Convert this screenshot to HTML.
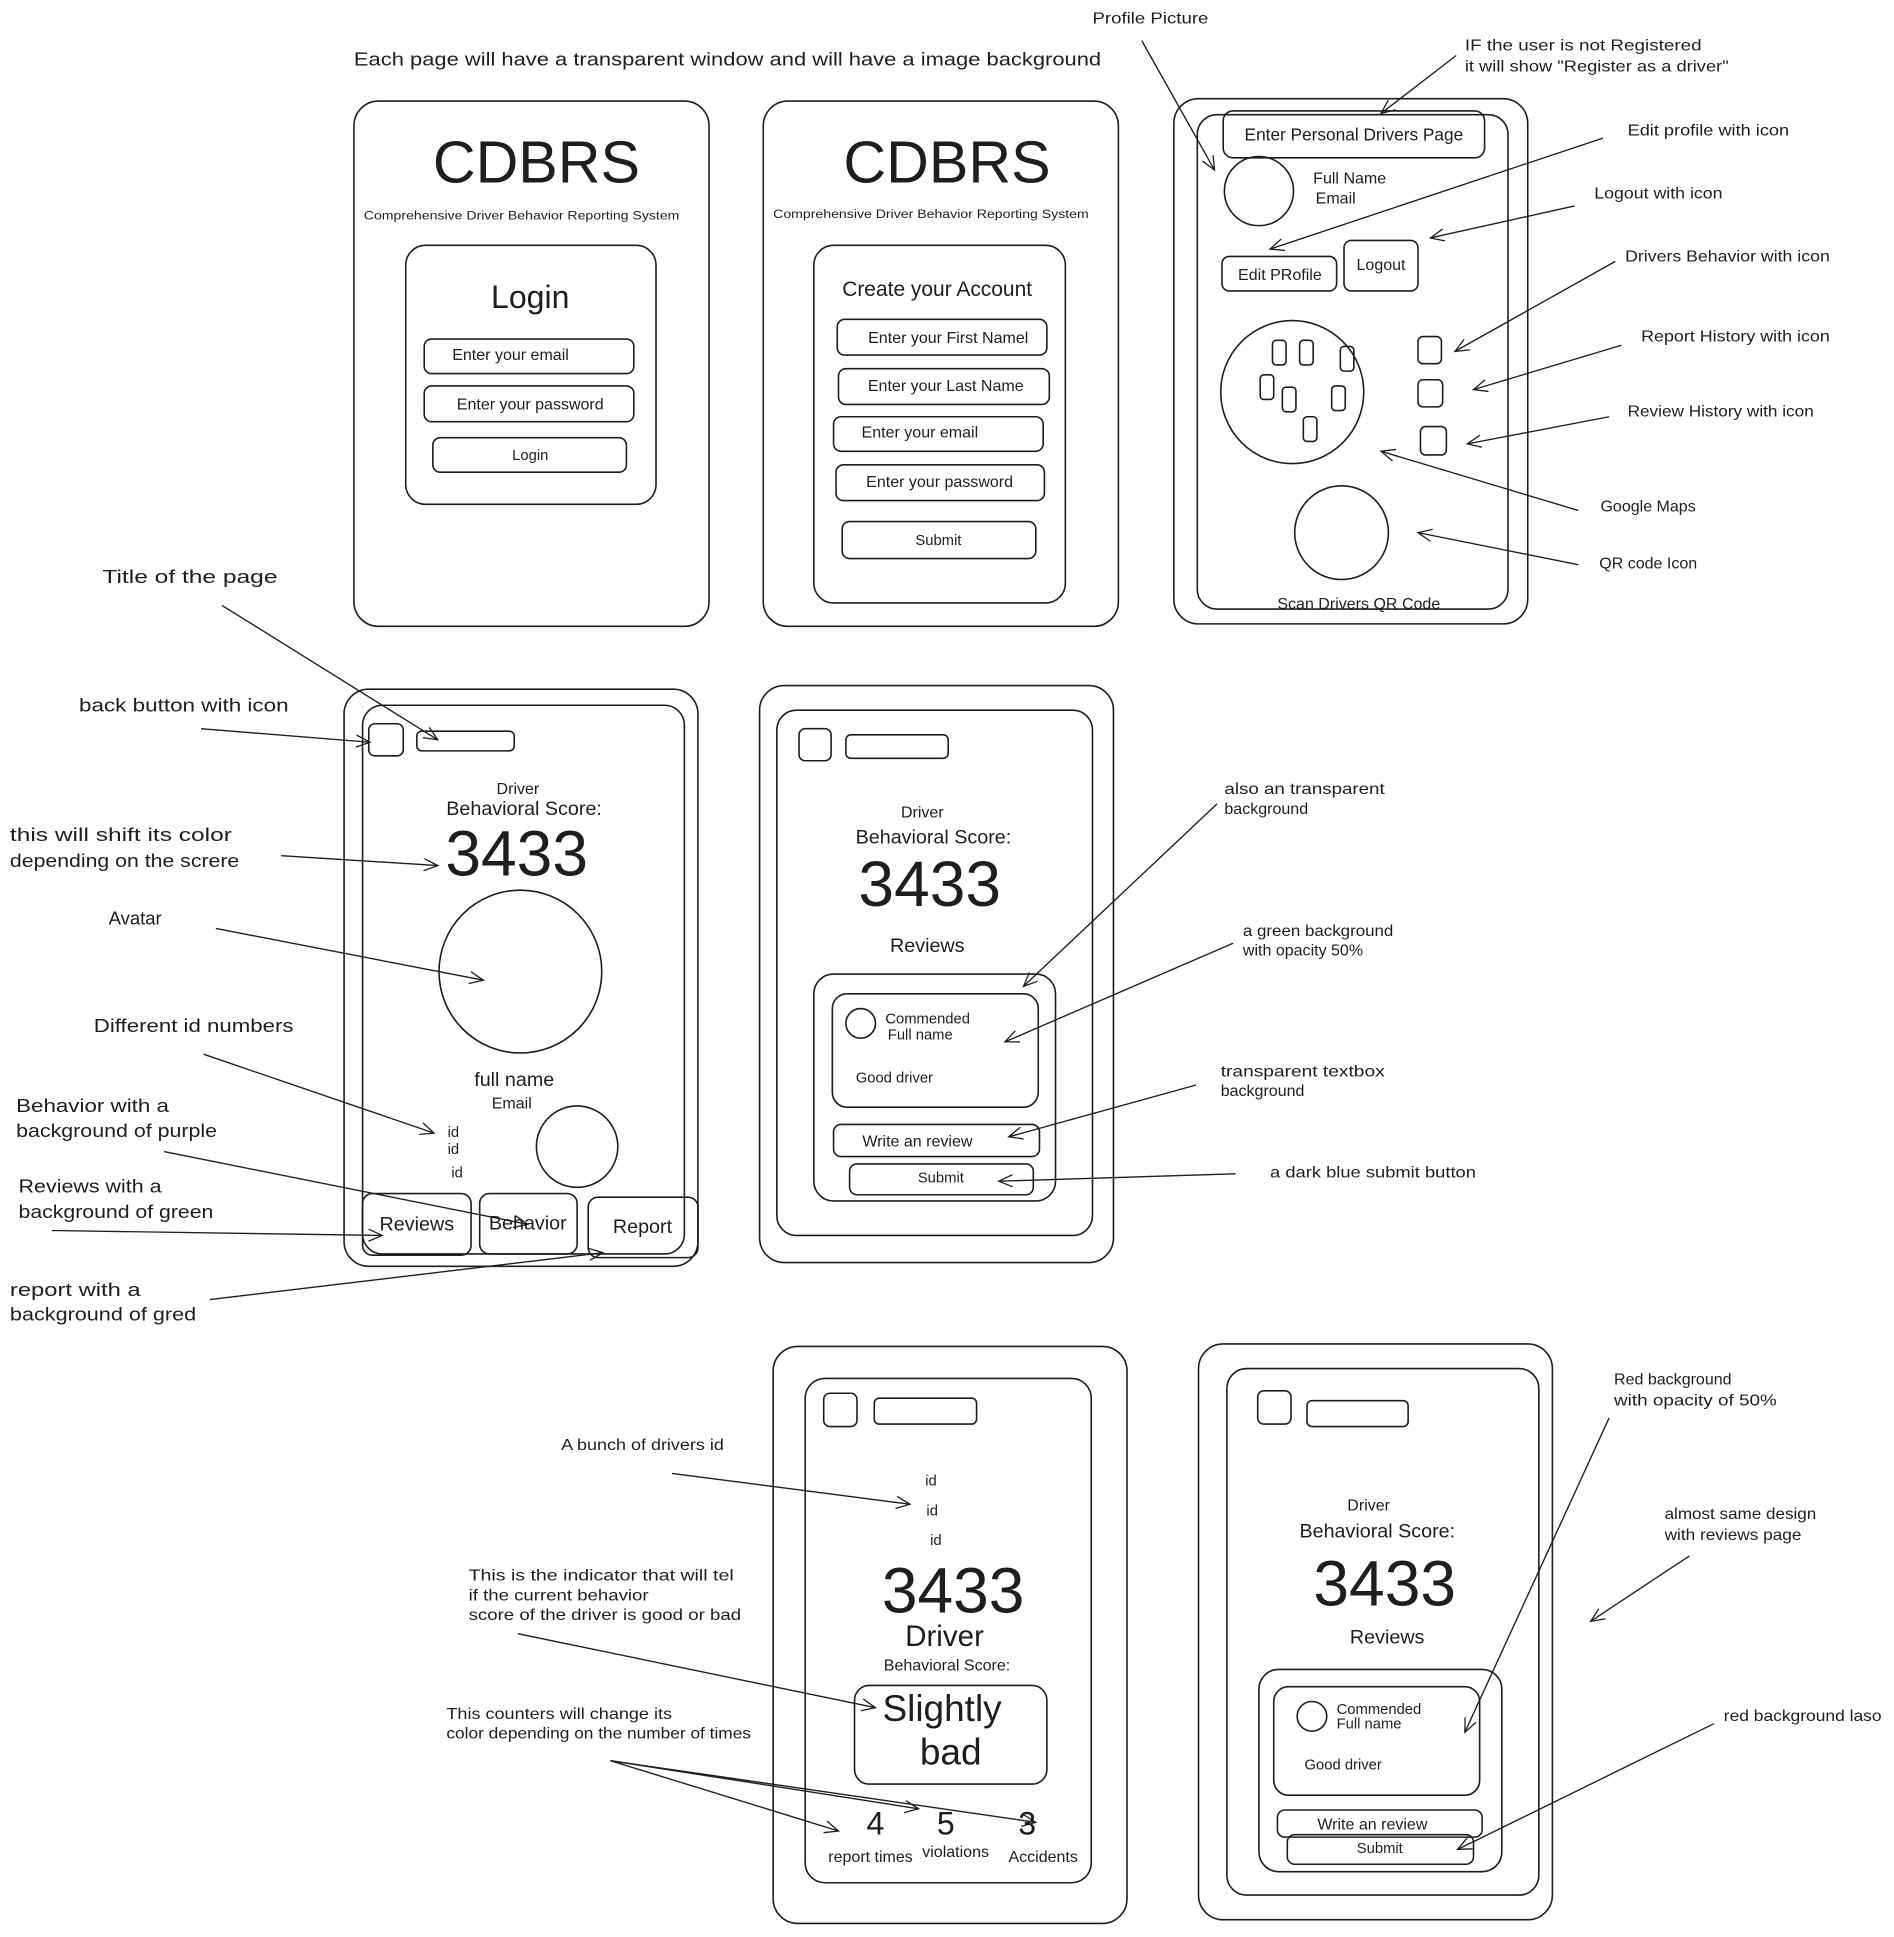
<!DOCTYPE html>
<html><head><meta charset="utf-8">
<style>
html,body{margin:0;padding:0;background:#fff;}
svg{display:block}
text{font-family:"Liberation Sans",sans-serif;fill:#1e1e1e;}
</style></head>
<body>
<svg width="1894" height="1937" viewBox="0 0 1536 1571" xmlns="http://www.w3.org/2000/svg">
<defs>
<marker id="a" viewBox="0 0 20 20" refX="18" refY="10" markerWidth="14" markerHeight="14" orient="auto" markerUnits="userSpaceOnUse">
<path d="M2 3 L18 10 L2 17" fill="none" stroke="#1e1e1e" stroke-width="1.5"/>
</marker>
</defs>
<g fill="none" stroke="#1e1e1e" stroke-width="1.3">
<rect x="287" y="82" width="288" height="426" rx="20"/>
<rect x="329" y="199" width="203" height="210" rx="16"/>
<rect x="344" y="275" width="170" height="28" rx="6"/>
<rect x="344" y="313" width="170" height="29" rx="6"/>
<rect x="351" y="355" width="157" height="28" rx="6"/>
<rect x="619" y="82" width="288" height="426" rx="20"/>
<rect x="660" y="199" width="204" height="290" rx="16"/>
<rect x="679" y="259" width="170" height="29" rx="6"/>
<rect x="680" y="299" width="171" height="29" rx="6"/>
<rect x="676" y="338" width="170" height="28" rx="6"/>
<rect x="678" y="377" width="169" height="29" rx="6"/>
<rect x="683" y="423" width="157" height="30" rx="6"/>
<rect x="952" y="80" width="287" height="426" rx="20"/>
<rect x="971" y="93" width="252" height="401" rx="16"/>
<rect x="992" y="90" width="212" height="38" rx="8"/>
<circle cx="1021" cy="155" r="28"/>
<rect x="991" y="208" width="93" height="28" rx="6"/>
<rect x="1090" y="195" width="60" height="41" rx="6"/>
<circle cx="1048" cy="318" r="58"/>
<rect x="1032" y="276" width="11" height="20" rx="3"/>
<rect x="1054" y="276" width="11" height="20" rx="3"/>
<rect x="1087" y="281" width="11" height="20" rx="3"/>
<rect x="1022" y="304" width="11" height="20" rx="3"/>
<rect x="1040" y="314" width="11" height="20" rx="3"/>
<rect x="1080" y="313" width="11" height="20" rx="3"/>
<rect x="1057" y="338" width="11" height="20" rx="3"/>
<rect x="1150" y="273" width="19" height="22" rx="4"/>
<rect x="1150" y="308" width="20" height="22" rx="4"/>
<rect x="1152" y="346" width="21" height="23" rx="4"/>
<circle cx="1088" cy="432" r="38"/>
<rect x="279" y="559" width="287" height="468" rx="20"/>
<rect x="294" y="572" width="261" height="445" rx="16"/>
<rect x="299" y="587" width="28" height="26" rx="5"/>
<rect x="338" y="593" width="79" height="16" rx="4"/>
<circle cx="422" cy="788" r="66"/>
<circle cx="468" cy="930" r="33"/>
<rect x="294" y="968" width="88" height="50" rx="8"/>
<rect x="389" y="968" width="79" height="49" rx="8"/>
<rect x="477" y="971" width="89" height="49" rx="8"/>
<rect x="616" y="556" width="287" height="468" rx="20"/>
<rect x="630" y="576" width="256" height="426" rx="16"/>
<rect x="648" y="591" width="26" height="26" rx="5"/>
<rect x="686" y="596" width="83" height="19" rx="4"/>
<rect x="660" y="790" width="196" height="184" rx="16"/>
<rect x="675" y="806" width="167" height="92" rx="12"/>
<circle cx="698" cy="830" r="12"/>
<rect x="676" y="912" width="167" height="26" rx="6"/>
<rect x="689" y="944" width="149" height="25" rx="6"/>
<rect x="627" y="1092" width="287" height="468" rx="20"/>
<rect x="653" y="1118" width="232" height="409" rx="16"/>
<rect x="668" y="1130" width="27" height="27" rx="5"/>
<rect x="709" y="1134" width="83" height="21" rx="4"/>
<rect x="693" y="1367" width="156" height="80" rx="12"/>
<rect x="972" y="1090" width="287" height="467" rx="20"/>
<rect x="995" y="1110" width="253" height="427" rx="16"/>
<rect x="1020" y="1128" width="27" height="27" rx="5"/>
<rect x="1060" y="1136" width="82" height="21" rx="4"/>
<rect x="1021" y="1354" width="197" height="164" rx="16"/>
<rect x="1033" y="1368" width="167" height="88" rx="12"/>
<circle cx="1064" cy="1392" r="12"/>
<rect x="1036" y="1468" width="166" height="22" rx="6"/>
<rect x="1044" y="1488" width="151" height="24" rx="6"/>
</g>
<g fill="none" stroke="#1e1e1e" stroke-width="1.1" marker-end="url(#a)">
<line x1="926" y1="33" x2="985" y2="138"/>
<line x1="1181" y1="45" x2="1120" y2="92"/>
<line x1="1300" y1="112" x2="1030" y2="202"/>
<line x1="1277" y1="167" x2="1160" y2="193"/>
<line x1="1310" y1="212" x2="1180" y2="285"/>
<line x1="1315" y1="280" x2="1195" y2="316"/>
<line x1="1305" y1="338" x2="1190" y2="360"/>
<line x1="1280" y1="414" x2="1120" y2="366"/>
<line x1="1280" y1="458" x2="1150" y2="432"/>
<line x1="180" y1="491" x2="355" y2="600"/>
<line x1="163" y1="591" x2="300" y2="602"/>
<line x1="228" y1="694" x2="355" y2="702"/>
<line x1="175" y1="753" x2="392" y2="795"/>
<line x1="165" y1="855" x2="352" y2="919"/>
<line x1="133" y1="934" x2="428" y2="993"/>
<line x1="42" y1="998" x2="310" y2="1002"/>
<line x1="170" y1="1054" x2="489" y2="1016"/>
<line x1="987" y1="652" x2="830" y2="800"/>
<line x1="1000" y1="765" x2="815" y2="845"/>
<line x1="970" y1="880" x2="818" y2="922"/>
<line x1="1002" y1="952" x2="810" y2="958"/>
<line x1="545" y1="1195" x2="738" y2="1220"/>
<line x1="420" y1="1325" x2="710" y2="1385"/>
<line x1="495" y1="1428" x2="680" y2="1485"/>
<line x1="495" y1="1428" x2="745" y2="1467"/>
<line x1="495" y1="1428" x2="840" y2="1478"/>
<line x1="1305" y1="1150" x2="1188" y2="1405"/>
<line x1="1370" y1="1262" x2="1290" y2="1315"/>
<line x1="1390" y1="1398" x2="1182" y2="1500"/>
</g>
<g font-size="13">
<text x="287" y="53" font-size="15" textLength="606" lengthAdjust="spacingAndGlyphs">Each page will have a transparent window and will have a image background</text>
<text x="435" y="148" font-size="48" text-anchor="middle">CDBRS</text>
<text x="295" y="178" font-size="9.5" textLength="256" lengthAdjust="spacingAndGlyphs">Comprehensive Driver Behavior Reporting System</text>
<text x="430" y="250" font-size="26" text-anchor="middle">Login</text>
<text x="414" y="292" text-anchor="middle">Enter your email</text>
<text x="430" y="332" text-anchor="middle">Enter your password</text>
<text x="430" y="373" font-size="12" text-anchor="middle">Login</text>
<text x="768" y="148" font-size="48" text-anchor="middle">CDBRS</text>
<text x="627" y="177" font-size="9.5" textLength="256" lengthAdjust="spacingAndGlyphs">Comprehensive Driver Behavior Reporting System</text>
<text x="760" y="240" font-size="17" text-anchor="middle">Create your Account</text>
<text x="769" y="278" text-anchor="middle">Enter your First Namel</text>
<text x="767" y="317" text-anchor="middle">Enter your Last Name</text>
<text x="746" y="355" text-anchor="middle">Enter your email</text>
<text x="762" y="395" text-anchor="middle">Enter your password</text>
<text x="761" y="442" font-size="12" text-anchor="middle">Submit</text>
<text x="1098" y="114" font-size="14" text-anchor="middle">Enter Personal Drivers Page</text>
<text x="1065" y="149">Full Name</text>
<text x="1067" y="165">Email</text>
<text x="1038" y="227" text-anchor="middle">Edit PRofile</text>
<text x="1120" y="219" text-anchor="middle">Logout</text>
<text x="1102" y="494" text-anchor="middle">Scan Drivers QR Code</text>
<text x="886" y="19" textLength="94" lengthAdjust="spacingAndGlyphs">Profile Picture</text>
<text x="1188" y="41" textLength="192" lengthAdjust="spacingAndGlyphs">IF the user is not Registered</text>
<text x="1188" y="58" textLength="214" lengthAdjust="spacingAndGlyphs">it will show "Register as a driver"</text>
<text x="1320" y="110" textLength="131" lengthAdjust="spacingAndGlyphs">Edit profile with icon</text>
<text x="1293" y="161" textLength="104" lengthAdjust="spacingAndGlyphs">Logout with icon</text>
<text x="1318" y="212" textLength="166" lengthAdjust="spacingAndGlyphs">Drivers Behavior with icon</text>
<text x="1331" y="277" textLength="153" lengthAdjust="spacingAndGlyphs">Report History with icon</text>
<text x="1320" y="338" textLength="151" lengthAdjust="spacingAndGlyphs">Review History with icon</text>
<text x="1298" y="415">Google Maps</text>
<text x="1297" y="461">QR code Icon</text>
<text x="420" y="644" text-anchor="middle">Driver</text>
<text x="425" y="661" font-size="16" text-anchor="middle">Behavioral Score:</text>
<text x="419" y="710" font-size="52" text-anchor="middle">3433</text>
<text x="417" y="881" font-size="16" text-anchor="middle">full name</text>
<text x="415" y="899" text-anchor="middle">Email</text>
<text x="363" y="922" font-size="12">id</text>
<text x="363" y="936" font-size="12">id</text>
<text x="366" y="955" font-size="12">id</text>
<text x="338" y="998" font-size="16" text-anchor="middle">Reviews</text>
<text x="428" y="997" font-size="16" text-anchor="middle">Behavior</text>
<text x="521" y="1000" font-size="16" text-anchor="middle">Report</text>
<text x="83" y="473" font-size="15" textLength="142" lengthAdjust="spacingAndGlyphs">Title of the page</text>
<text x="64" y="577" font-size="15" textLength="170" lengthAdjust="spacingAndGlyphs">back button with icon</text>
<text x="8" y="682" font-size="15" textLength="180" lengthAdjust="spacingAndGlyphs">this will shift its color</text>
<text x="8" y="703" font-size="15" textLength="186" lengthAdjust="spacingAndGlyphs">depending on the screre</text>
<text x="88" y="750" font-size="15">Avatar</text>
<text x="76" y="837" font-size="15" textLength="162" lengthAdjust="spacingAndGlyphs">Different id numbers</text>
<text x="13" y="902" font-size="15" textLength="124" lengthAdjust="spacingAndGlyphs">Behavior with a</text>
<text x="13" y="922" font-size="15" textLength="163" lengthAdjust="spacingAndGlyphs">background of purple</text>
<text x="15" y="967" font-size="15" textLength="116" lengthAdjust="spacingAndGlyphs">Reviews with a</text>
<text x="15" y="988" font-size="15" textLength="158" lengthAdjust="spacingAndGlyphs">background of green</text>
<text x="8" y="1051" font-size="15" textLength="106" lengthAdjust="spacingAndGlyphs">report with a</text>
<text x="8" y="1071" font-size="15" textLength="151" lengthAdjust="spacingAndGlyphs">background of gred</text>
<text x="748" y="663" text-anchor="middle">Driver</text>
<text x="757" y="684" font-size="16" text-anchor="middle">Behavioral Score:</text>
<text x="754" y="735" font-size="52" text-anchor="middle">3433</text>
<text x="752" y="772" font-size="16" text-anchor="middle">Reviews</text>
<text x="718" y="830" font-size="12">Commended</text>
<text x="720" y="843" font-size="12">Full name</text>
<text x="694" y="878" font-size="12">Good driver</text>
<text x="744" y="930" text-anchor="middle">Write an review</text>
<text x="763" y="959" font-size="12" text-anchor="middle">Submit</text>
<text x="993" y="644" textLength="130" lengthAdjust="spacingAndGlyphs">also an transparent</text>
<text x="993" y="660">background</text>
<text x="1008" y="759" textLength="122" lengthAdjust="spacingAndGlyphs">a green background</text>
<text x="1008" y="775">with opacity 50%</text>
<text x="990" y="873" textLength="133" lengthAdjust="spacingAndGlyphs">transparent textbox</text>
<text x="990" y="889">background</text>
<text x="1030" y="955" textLength="167" lengthAdjust="spacingAndGlyphs">a dark blue submit button</text>
<text x="755" y="1205" font-size="12" text-anchor="middle">id</text>
<text x="756" y="1229" font-size="12" text-anchor="middle">id</text>
<text x="759" y="1253" font-size="12" text-anchor="middle">id</text>
<text x="773" y="1308" font-size="52" text-anchor="middle">3433</text>
<text x="766" y="1335" font-size="24" text-anchor="middle">Driver</text>
<text x="768" y="1355" text-anchor="middle">Behavioral Score:</text>
<text x="764" y="1396" font-size="30" text-anchor="middle">Slightly</text>
<text x="771" y="1431" font-size="30" text-anchor="middle">bad</text>
<text x="710" y="1488" font-size="26" text-anchor="middle">4</text>
<text x="767" y="1488" font-size="26" text-anchor="middle">5</text>
<text x="833" y="1488" font-size="26" text-anchor="middle">3</text>
<text x="706" y="1510" text-anchor="middle">report times</text>
<text x="775" y="1506" text-anchor="middle">violations</text>
<text x="846" y="1510" text-anchor="middle">Accidents</text>
<text x="455" y="1176" textLength="132" lengthAdjust="spacingAndGlyphs">A bunch of drivers id</text>
<text x="380" y="1282" textLength="215" lengthAdjust="spacingAndGlyphs">This is the indicator that will tel</text>
<text x="380" y="1298" textLength="146" lengthAdjust="spacingAndGlyphs">if the current behavior</text>
<text x="380" y="1314" textLength="221" lengthAdjust="spacingAndGlyphs">score of the driver is good or bad</text>
<text x="362" y="1394" textLength="183" lengthAdjust="spacingAndGlyphs">This counters will change its</text>
<text x="362" y="1410" textLength="247" lengthAdjust="spacingAndGlyphs">color depending on the number of times</text>
<text x="1110" y="1225" text-anchor="middle">Driver</text>
<text x="1117" y="1247" font-size="16" text-anchor="middle">Behavioral Score:</text>
<text x="1123" y="1302" font-size="52" text-anchor="middle">3433</text>
<text x="1125" y="1333" font-size="16" text-anchor="middle">Reviews</text>
<text x="1084" y="1390" font-size="12">Commended</text>
<text x="1084" y="1402" font-size="12">Full name</text>
<text x="1058" y="1435" font-size="12">Good driver</text>
<text x="1113" y="1484" text-anchor="middle">Write an review</text>
<text x="1119" y="1503" font-size="12" text-anchor="middle">Submit</text>
<text x="1309" y="1123">Red background</text>
<text x="1309" y="1140" textLength="132" lengthAdjust="spacingAndGlyphs">with opacity of 50%</text>
<text x="1350" y="1232" textLength="123" lengthAdjust="spacingAndGlyphs">almost same design</text>
<text x="1350" y="1249" textLength="111" lengthAdjust="spacingAndGlyphs">with reviews page</text>
<text x="1398" y="1396" textLength="128" lengthAdjust="spacingAndGlyphs">red background laso</text>
</g>
</svg>
</body></html>
